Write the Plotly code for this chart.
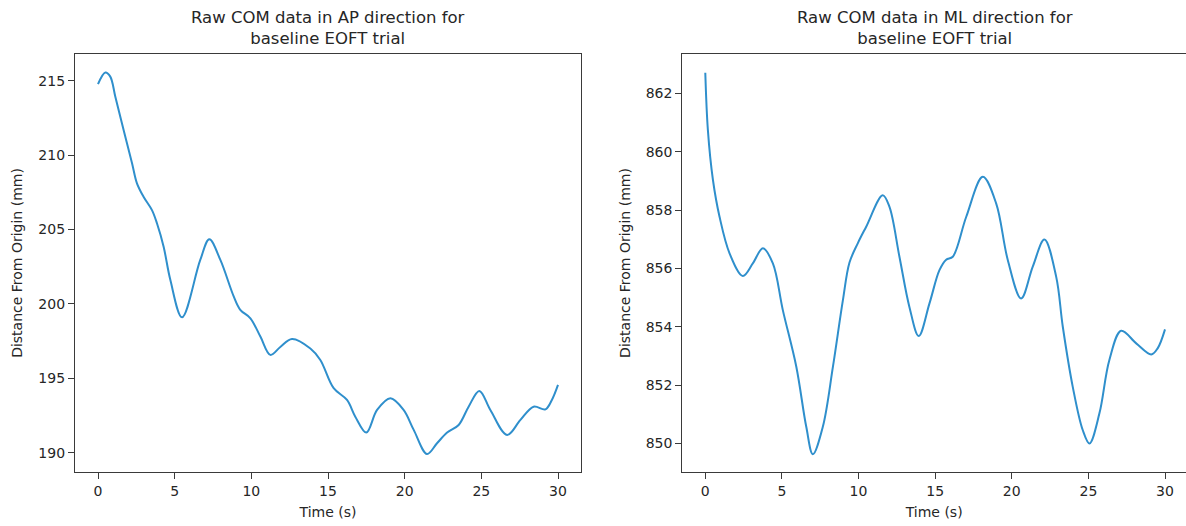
import plotly.graph_objects as go

# AP direction (left panel)
ap_time = [0, 0.48, 0.8, 1.13, 1.67, 2.22, 2.54, 2.97, 3.52, 3.85, 4.28, 4.72, 5.48,
           6.67, 7.26, 7.98, 8.85, 9.28, 9.94, 10.59, 11.24, 11.89, 12.65, 13.85,
           14.5, 15.37, 16.24, 16.78, 17.5, 18.2, 19.07, 19.93, 20.59, 21.46, 22.11,
           22.77, 23.52, 24.17, 24.87, 25.59, 26.68, 27.55, 28.41, 29.18, 29.6, 30.0]
ap_value = [214.76, 215.54, 215.27, 213.92, 211.69, 209.45, 208.1, 207.2, 206.3, 205.4,
            203.84, 201.6, 199.1, 202.95, 204.34, 202.95, 200.5, 199.6, 199.03, 197.8,
            196.57, 197.1, 197.64, 197.0, 196.23, 194.33, 193.54, 192.42, 191.35,
            192.87, 193.66, 192.87, 191.53, 189.91, 190.63, 191.35, 191.86, 193.09,
            194.15, 192.87, 191.19, 192.2, 193.09, 192.91, 193.54, 194.55]

# ML direction (right panel)
ml_time = [0, 0.17, 0.5, 0.93, 1.59, 2.45, 3.1, 3.76, 4.41, 5.06, 5.94, 6.59, 7.02,
           7.67, 8.33, 8.98, 9.41, 9.95, 10.5, 11.58, 12.02, 12.67, 13.32, 13.93,
           14.63, 15.28, 15.72, 16.15, 17.03, 18.11, 18.98, 19.74, 20.61, 21.37,
           22.13, 22.9, 23.33, 23.98, 24.63, 25.07, 25.72, 26.37, 27.14, 28.12, 29.1,
           29.52, 30.0]
ml_value = [862.71, 860.74, 859.03, 857.77, 856.51, 855.74, 856.17, 856.69, 856.17,
            854.57, 852.63, 850.57, 849.63, 850.57, 852.63, 854.91, 856.2, 856.86,
            857.43, 858.51, 858.11, 856.4, 854.68, 853.68, 854.8, 855.94, 856.3,
            856.4, 857.77, 859.14, 858.23, 856.29, 854.97, 856.06, 856.99, 855.71,
            854.0, 851.94, 850.46, 850.0, 851.03, 852.86, 853.86, 853.43, 853.05,
            853.26, 853.91]

titles = ["Raw COM data in AP direction for<br>baseline EOFT trial",
          "Raw COM data in ML direction for<br>baseline EOFT trial"]
x_label = "Time (s)"
y_label = "Distance From Origin (mm)"
x_ticks = [0, 5, 10, 15, 20, 25, 30]
ap_ticks = [190, 195, 200, 205, 210, 215]
ml_ticks = [850, 852, 854, 856, 858, 860, 862]

W, H = 1186, 526
FONT = "DejaVu Sans"
TXT = "#262626"
LINE = "#2f8fcc"
SPINE = "#3a3a3a"

fig = go.Figure()
fig.add_trace(go.Scatter(x=ap_time, y=ap_value, mode="lines",
                         line=dict(color=LINE, width=2, shape="spline", smoothing=1.0),
                         xaxis="x", yaxis="y", showlegend=False))
fig.add_trace(go.Scatter(x=ml_time, y=ml_value, mode="lines",
                         line=dict(color=LINE, width=2, shape="spline", smoothing=1.0),
                         xaxis="x2", yaxis="y2", showlegend=False))

d1 = [75 / W, 581 / W]
d2 = [682.3 / W, 1.0]

common_ax = dict(showgrid=False, zeroline=False, showline=True, mirror=True,
                 linecolor=SPINE, linewidth=1.2, ticks="outside", ticklen=6,
                 tickwidth=1.2, tickcolor=SPINE,
                 tickfont=dict(family=FONT, size=14, color=TXT))

fig.update_layout(
    width=W, height=H,
    margin=dict(l=0, r=0, t=54, b=54),
    paper_bgcolor="white", plot_bgcolor="white",
    font=dict(family=FONT, color=TXT),
    xaxis=dict(domain=d1, range=[-1.5, 31.5], tickvals=x_ticks, anchor="y",
               title=dict(text=x_label, font=dict(family=FONT, size=14, color=TXT), standoff=9),
               **common_ax),
    yaxis=dict(domain=[0, 1], range=[188.70, 216.79], tickvals=ap_ticks, anchor="x",
               title=dict(text=y_label, font=dict(family=FONT, size=14, color=TXT), standoff=12),
               **common_ax),
    xaxis2=dict(domain=d2, range=[-1.5, 30 + (1186 - 1165) / 15.33], tickvals=x_ticks,
                anchor="y2",
                title=dict(text=x_label, font=dict(family=FONT, size=14, color=TXT), standoff=9),
                **common_ax),
    yaxis2=dict(domain=[0, 1], range=[849.02, 863.35], tickvals=ml_ticks, anchor="x2",
                title=dict(text=y_label, font=dict(family=FONT, size=14, color=TXT), standoff=11),
                **common_ax),
)

for i, (t, dom) in enumerate(zip(titles, [d1, [682.3 / W, 1188.5 / W]])):
    fig.add_annotation(text=t, xref="paper", yref="paper",
                       x=(dom[0] + dom[1]) / 2, y=(472 - 28) / 418,
                       xanchor="center", yanchor="middle", showarrow=False,
                       font=dict(family=FONT, size=16.5, color=TXT))

fig.write_html("out.html")
